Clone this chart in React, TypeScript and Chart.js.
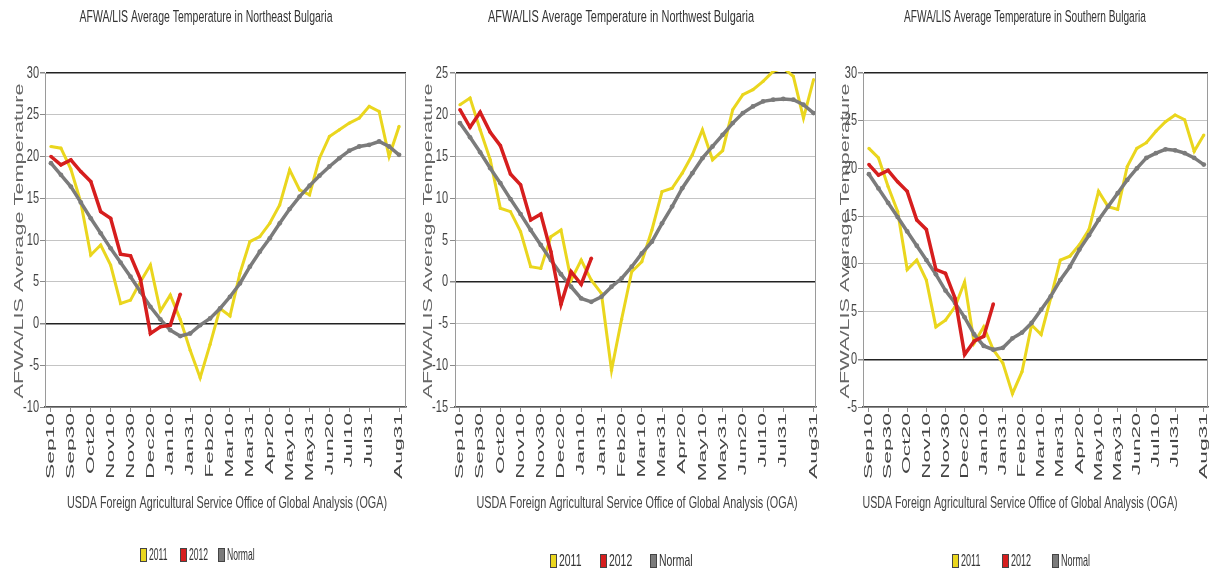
import React, { useEffect, useRef } from 'react';
import { Chart, registerables } from 'chart.js';

Chart.register(...registerables);

// ---------- data ----------
const DEKADS = ['Sep10','Sep20','Sep30','Oct10','Oct20','Oct31','Nov10','Nov20','Nov30','Dec10','Dec20','Dec31','Jan10','Jan20','Jan31','Feb10','Feb20','Feb28','Mar10','Mar20','Mar31','Apr10','Apr20','Apr30','May10','May20','May31','Jun10','Jun20','Jun30','Jul10','Jul20','Jul31','Aug10','Aug20','Aug31'];
const TICK_LABELS = ['Sep10','Sep30','Oct20','Nov10','Nov30','Dec20','Jan10','Jan31','Feb20','Mar10','Mar31','Apr20','May10','May31','Jun20','Jul10','Jul31','Aug31'];
const SERIES_NAMES = ['2011', '2012', 'Normal'];
const REGIONS = ['Northeast', 'Northwest', 'Southern'];

const NE_Y_RANGE = [-10, 30];
const NE_2011 = [21.2, 21.0, 18.5, 14.5, 8.2, 9.4, 7.0, 2.4, 2.8, 5.0, 7.0, 1.5, 3.4, 0.5, -3.2, -6.5, -2.5, 1.8, 0.9, 6.0, 9.8, 10.4, 12.0, 14.2, 18.4, 16.0, 15.4, 19.8, 22.4, 23.2, 24.0, 24.6, 26.0, 25.4, 20.0, 23.6];
const NE_2012 = [20.0, 19.0, 19.6, 18.2, 17.0, 13.4, 12.6, 8.3, 8.1, 5.3, -1.2, -0.4, -0.2, 3.5];
const NE_NORMAL = [19.2, 17.8, 16.4, 14.5, 12.6, 10.8, 9.0, 7.3, 5.6, 3.8, 2.0, 0.5, -0.8, -1.5, -1.2, -0.2, 0.6, 1.8, 3.2, 4.8, 6.8, 8.6, 10.2, 12.0, 13.7, 15.2, 16.5, 17.7, 18.8, 19.8, 20.7, 21.2, 21.4, 21.8, 21.2, 20.2];

const NW_Y_RANGE = [-15, 25];
const NW_2011 = [21.2, 22.0, 18.2, 14.6, 8.8, 8.4, 6.0, 1.8, 1.6, 5.4, 6.2, 0.2, 2.6, 0.2, -1.4, -10.6, -4.5, 1.2, 2.4, 6.2, 10.8, 11.2, 13.0, 15.2, 18.2, 14.6, 15.7, 20.6, 22.4, 23.0, 24.0, 25.2, 25.6, 24.6, 19.6, 24.2];
const NW_2012 = [20.6, 18.5, 20.3, 17.9, 16.3, 12.9, 11.6, 7.4, 8.1, 3.6, -2.7, 1.2, -0.3, 2.8];
const NW_NORMAL = [19.0, 17.3, 15.5, 13.6, 11.8, 9.9, 8.1, 6.2, 4.4, 2.6, 0.9, -0.6, -2.0, -2.4, -1.8, -0.6, 0.4, 1.8, 3.4, 4.8, 7.0, 9.0, 11.2, 13.0, 14.8, 16.2, 17.6, 19.0, 20.2, 21.0, 21.6, 21.8, 21.9, 21.8, 21.2, 20.2];

const S_Y_RANGE = [-5, 30];
const S_2011 = [22.1, 21.1, 18.1, 15.5, 9.4, 10.4, 8.3, 3.4, 4.1, 5.5, 8.1, 1.7, 3.4, 1.0, -0.4, -3.6, -1.3, 3.6, 2.6, 6.4, 10.4, 10.8, 12.0, 13.6, 17.6, 16.0, 15.7, 20.2, 22.1, 22.7, 23.9, 24.9, 25.6, 25.1, 21.8, 23.5];
const S_2012 = [20.4, 19.3, 19.8, 18.6, 17.6, 14.6, 13.6, 9.4, 9.0, 6.4, 0.5, 1.9, 2.4, 5.8];
const S_NORMAL = [19.4, 17.9, 16.4, 14.9, 13.4, 11.9, 10.4, 8.9, 7.2, 5.9, 4.4, 2.6, 1.4, 1.0, 1.2, 2.2, 2.8, 3.8, 5.2, 6.6, 8.3, 9.7, 11.5, 13.0, 14.6, 16.0, 17.4, 18.8, 20.0, 21.1, 21.6, 22.0, 21.9, 21.6, 21.1, 20.4];

const Y_TITLE = 'AFWA/LIS Average Temperature';
const X_TITLE = 'USDA Foreign Agricultural Service Office of Global Analysis (OGA)';

// ---------- styling / layout ----------
const COLORS = ['#EAD61E', '#D61E1E', '#7B7B7B'];
const FONT = "'Liberation Sans', Arial, sans-serif";
const H = 575;
const PLOT_TOP = 73;
const PLOT_BOTTOM = 407;

const PANEL_DATA = [
  { region: REGIONS[0], yRange: NE_Y_RANGE, s2011: NE_2011, s2012: NE_2012, normal: NE_NORMAL },
  { region: REGIONS[1], yRange: NW_Y_RANGE, s2011: NW_2011, s2012: NW_2012, normal: NW_NORMAL },
  { region: REGIONS[2], yRange: S_Y_RANGE, s2011: S_2011, s2012: S_2012, normal: S_NORMAL },
];

const PANEL_LAYOUT = [
  { left: 0, width: 410, plotL: 45, plotR: 408, xMin: -0.6, xMax: 35.7, titleX: 206, titleW: 253, yLabelRight: 39, yTitleX: 20, xTitleX: 227, xTitleW: 320, legendY: 555, legendBoxX: [140, 180, 218], legendSx: 0.78 },
  { left: 410, width: 410, plotL: 45, plotR: 408, xMin: -0.49, xMax: 35.24, titleX: 211, titleW: 266, yLabelRight: 38, yTitleX: 19, xTitleX: 227, xTitleW: 321, legendY: 561, legendBoxX: [140, 190, 240], legendSx: 0.95 },
  { left: 820, width: 392, plotL: 43, plotR: 391, xMin: -0.62, xMax: 35.44, titleX: 205, titleW: 242, yLabelRight: 37, yTitleX: 26, xTitleX: 200, xTitleW: 315, legendY: 561, legendBoxX: [132, 182, 232], legendSx: 0.82 },
];

const TICK_IDX = TICK_LABELS.map((l) => DEKADS.indexOf(l));

function measure(ctx: CanvasRenderingContext2D, s: string, size = 11) {
  ctx.save();
  ctx.font = `${size}px ${FONT}`;
  const w = ctx.measureText(s).width;
  ctx.restore();
  return w;
}

function drawText(ctx: CanvasRenderingContext2D, s: string, x: number, y: number, o: any = {}) {
  ctx.save();
  ctx.translate(x, y);
  if (o.rot) ctx.rotate(-Math.PI / 2);
  ctx.scale(o.sx ?? 1, o.sy ?? 1);
  ctx.font = `${o.size ?? 11}px ${FONT}`;
  ctx.fillStyle = o.color ?? '#444';
  ctx.textAlign = o.align ?? 'left';
  ctx.textBaseline = o.baseline ?? 'middle';
  ctx.fillText(s, 0, 0);
  ctx.restore();
}

function toPoints(vals: number[]) {
  return vals.map((v, i) => ({ x: i, y: v }));
}

function Panel({ data, layout }: { data: any; layout: any }) {
  const ref = useRef<HTMLCanvasElement | null>(null);

  useEffect(() => {
    if (!ref.current) return;
    const [yMin, yMax] = data.yRange;

    const deco = {
      id: 'deco',
      afterDraw(chart: any) {
        const ctx: CanvasRenderingContext2D = chart.ctx;
        const a = chart.chartArea;
        const xs = chart.scales.x;
        const ys = chart.scales.y;

        // right border
        ctx.save();
        ctx.strokeStyle = '#9a9a9a';
        ctx.lineWidth = 1;
        ctx.beginPath();
        ctx.moveTo(a.right - 0.5, a.top);
        ctx.lineTo(a.right - 0.5, a.bottom);
        ctx.stroke();
        ctx.restore();

        // title
        const title = `AFWA/LIS Average Temperature in ${data.region} Bulgaria`;
        drawText(ctx, title, layout.titleX, 18, {
          align: 'center', sx: layout.titleW / measure(ctx, title), sy: 1.45, color: '#333',
        });

        // y tick labels
        ys.ticks.forEach((t: any) => {
          drawText(ctx, String(t.value), layout.yLabelRight, ys.getPixelForValue(t.value), {
            align: 'right', sy: 1.5, color: '#444',
          });
        });

        // y title
        drawText(ctx, Y_TITLE, layout.yTitleX, (a.top + a.bottom) / 2 + 1, {
          rot: true, align: 'center', sx: 315 / measure(ctx, Y_TITLE), sy: 1.15, color: '#666',
        });

        // x tick labels
        const xStretch = 66 / measure(ctx, 'Sep10');
        xs.ticks.forEach((t: any) => {
          drawText(ctx, DEKADS[t.value], xs.getPixelForValue(t.value), a.bottom + 6, {
            rot: true, align: 'right', sx: xStretch, sy: 1.05, color: '#444',
          });
        });

        // x title
        drawText(ctx, X_TITLE, layout.xTitleX, 503, {
          align: 'center', sx: layout.xTitleW / measure(ctx, X_TITLE), sy: 1.5, color: '#444',
        });

        // legend
        SERIES_NAMES.forEach((name, i) => {
          const bx = layout.legendBoxX[i];
          const by = layout.legendY - 7;
          ctx.save();
          ctx.fillStyle = COLORS[i];
          ctx.fillRect(bx, by, 7, 14);
          ctx.strokeStyle = '#444';
          ctx.lineWidth = 1;
          ctx.strokeRect(bx + 0.5, by + 0.5, 6, 13);
          ctx.restore();
          drawText(ctx, name, bx + 9, layout.legendY, { sx: layout.legendSx, sy: 1.5, color: '#333' });
        });
      },
    };

    const chart = new Chart(ref.current, {
      type: 'line',
      data: {
        datasets: [
          {
            label: SERIES_NAMES[1], data: toPoints(data.s2012), borderColor: COLORS[1], backgroundColor: COLORS[1],
            borderWidth: 3.5, pointRadius: 1.8, pointBorderWidth: 0, tension: 0, clip: 2,
          },
          {
            label: SERIES_NAMES[2], data: toPoints(data.normal), borderColor: COLORS[2], backgroundColor: COLORS[2],
            borderWidth: 3.5, pointRadius: 2.4, pointBorderWidth: 0, tension: 0, clip: 2,
          },
          {
            label: SERIES_NAMES[0], data: toPoints(data.s2011), borderColor: COLORS[0], backgroundColor: COLORS[0],
            borderWidth: 3, pointRadius: 1.6, pointBorderWidth: 0, tension: 0, clip: 2,
          },
        ],
      },
      options: {
        animation: false,
        responsive: false,
        maintainAspectRatio: false,
        events: [],
        layout: {
          padding: {
            left: layout.plotL - 6,
            right: layout.width - layout.plotR,
            top: PLOT_TOP,
            bottom: H - PLOT_BOTTOM - 6,
          },
        },
        plugins: { legend: { display: false }, tooltip: { enabled: false }, title: { display: false } },
        scales: {
          x: {
            type: 'linear',
            min: layout.xMin,
            max: layout.xMax,
            afterBuildTicks: (s: any) => { s.ticks = TICK_IDX.map((v) => ({ value: v })); },
            afterFit: (s: any) => { s.height = 6; },
            ticks: { display: false },
            grid: { drawOnChartArea: false, drawTicks: true, tickLength: 5, color: '#8a8a8a' },
            border: { color: '#555', width: 1.5 },
          },
          y: {
            min: yMin,
            max: yMax,
            afterFit: (s: any) => { s.width = 6; },
            ticks: { display: false, stepSize: 5 },
            grid: {
              color: (c: any) => (c.tick && (c.tick.value === 0 || c.tick.value === yMax) ? '#222' : '#c4c4c4'),
              lineWidth: (c: any) => (c.tick && (c.tick.value === 0 || c.tick.value === yMax) ? 1.5 : 1),
              tickLength: 5,
              tickColor: '#8a8a8a',
            },
            border: { color: '#9a9a9a', width: 1 },
          },
        },
      } as any,
      plugins: [deco],
    });
    return () => chart.destroy();
  }, []);

  return (
    <div style={{ position: 'absolute', left: layout.left, top: 0, width: layout.width, height: H }}>
      <canvas ref={ref} width={layout.width} height={H} style={{ display: 'block', width: layout.width, height: H }} />
    </div>
  );
}

export default function App() {
  return (
    <div style={{ position: 'absolute', left: 0, top: 0, width: 1212, height: H, background: '#fff', overflow: 'hidden' }}>
      {PANEL_DATA.map((d, i) => (
        <Panel key={i} data={d} layout={PANEL_LAYOUT[i]} />
      ))}
    </div>
  );
}
